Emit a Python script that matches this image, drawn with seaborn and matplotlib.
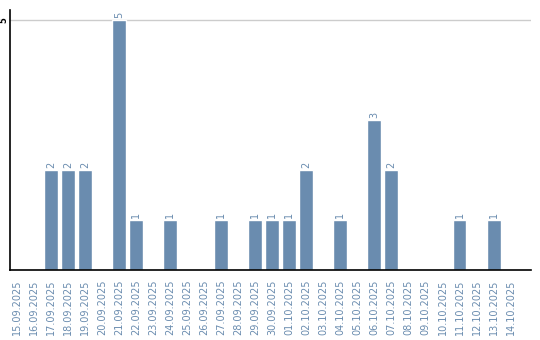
import matplotlib
matplotlib.use("Agg")
import matplotlib.pyplot as plt
import seaborn as sns
import pandas as pd

dates = ["15.09.2025", "16.09.2025", "17.09.2025", "18.09.2025", "19.09.2025",
         "20.09.2025", "21.09.2025", "22.09.2025", "23.09.2025", "24.09.2025",
         "25.09.2025", "26.09.2025", "27.09.2025", "28.09.2025", "29.09.2025",
         "30.09.2025", "01.10.2025", "02.10.2025", "03.10.2025", "04.10.2025",
         "05.10.2025", "06.10.2025", "07.10.2025", "08.10.2025", "09.10.2025",
         "10.10.2025", "11.10.2025", "12.10.2025", "13.10.2025", "14.10.2025"]
counts = [0, 0, 2, 2, 2, 0, 5, 1, 0, 1, 0, 0, 1, 0, 1,
          1, 1, 2, 0, 1, 0, 3, 2, 0, 0, 0, 1, 0, 1, 0]

bar_color = "#6a8caf"
label_color = "#6a8caf"

sns.set_style("white")
plt.rcParams['font.family'] = ['DejaVu Sans']

df = pd.DataFrame({"date": dates, "count": counts})

fig = plt.figure(figsize=(5.4, 3.4), dpi=100)
ax = fig.add_axes([10 / 540, 70 / 340, 521 / 540, 260 / 340])

sns.barplot(data=df, x="date", y="count", color=bar_color, saturation=1,
            width=0.82, ax=ax, order=dates, zorder=2)

ax.set_xlim(-0.41, 30.2)
ax.set_ylim(0, 5.2)
ax.set_yticks([5])
ax.set_yticklabels(["5"], rotation=90, fontsize=6, color="black",
                   va="center", fontweight="bold")
ax.tick_params(axis="y", length=0, pad=1.5)
ax.axhline(5, color="#cccccc", lw=1, zorder=1)
ax.set_xticks(range(len(dates)))
ax.set_xticklabels(dates, rotation=90, fontsize=7, color=label_color)
ax.tick_params(axis="x", length=0, pad=7)
ax.set_xlabel("")
ax.set_ylabel("")

for s in ["top", "right"]:
    ax.spines[s].set_visible(False)
for s in ["left", "bottom"]:
    ax.spines[s].set_color("black")
    ax.spines[s].set_linewidth(1.2)

for i, v in enumerate(counts):
    if v > 0:
        ax.text(i, v + 0.04, str(v), rotation=90, ha="center", va="bottom",
                fontsize=7, color=label_color)

fig.savefig("out.png", dpi=100)
